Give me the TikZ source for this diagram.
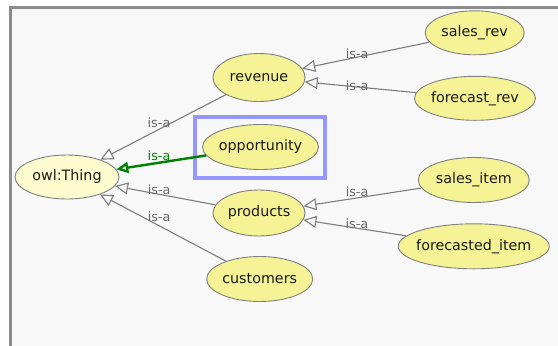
\documentclass[tikz,border=0pt]{standalone}
\usepackage{fontspec}
\setmainfont{DejaVu Sans}
\usetikzlibrary{shapes.geometric,arrows.meta}
\definecolor{frame}{RGB}{140,140,140}
\definecolor{canvas}{RGB}{248,248,248}
\definecolor{rootfill}{RGB}{252,252,206}
\definecolor{classfill}{RGB}{246,243,150}
\definecolor{classline}{RGB}{128,128,128}
\definecolor{edgegray}{RGB}{125,125,125}
\definecolor{labelgray}{RGB}{105,105,105}
\definecolor{selgreen}{RGB}{0,128,0}
\definecolor{highlight}{RGB}{150,150,255}

\begin{document}
\begin{tikzpicture}[x=1pt,y=-1pt,
  cls/.style={ellipse, draw=classline, line width=0.9pt, fill=classfill,
    inner sep=0pt, font=\fontsize{14.3}{16}\selectfont, text=black!90},
  root/.style={cls, fill=rootfill},
  isa/.style={draw=edgegray, line width=1.1pt,
    -{Triangle[open, length=13pt, width=12pt]}},
  selisa/.style={draw=selgreen, line width=2.4pt,
    -{Triangle[open, length=12pt, width=11pt]}},
  lbl/.style={inner sep=0pt, text=labelgray, font=\fontsize{12.8}{14}\selectfont},
  sellbl/.style={lbl, text=selgreen}
]
% page, panel and its frame
\useasboundingbox (0,0) rectangle (558,346);
\fill[white] (0,0) rectangle (558,346);
\fill[canvas] (12,9) rectangle (558,346);
\draw[frame, line width=3pt] (10.5,346) -- (10.5,7.5) -- (558,7.5);

% classes
\node[root, minimum width=104pt, minimum height=44pt] (owl) at (67,177) {\makebox[0pt]{owl:Thing}};
\node[cls, minimum width=92pt, minimum height=48pt] (rev) at (259,77.5) {\makebox[0pt]{revenue}};
\node[cls, minimum width=116pt, minimum height=45pt] (opp) at (260.5,147) {\makebox[0pt]{opportunity}};
\node[cls, minimum width=92pt, minimum height=46pt] (prod) at (259,213) {\makebox[0pt]{products}};
\node[cls, minimum width=106pt, minimum height=45pt] (cust) at (259.7,279) {\makebox[0pt]{customers}};
\node[cls, minimum width=99pt, minimum height=44pt] (srev) at (474.7,32.8) {\makebox[0pt]{sales\_rev}};
\node[cls, minimum width=121pt, minimum height=44pt] (frev) at (475,98.3) {\makebox[0pt]{forecast\_rev}};
\node[cls, minimum width=111pt, minimum height=45pt] (sitem) at (473.8,180) {\makebox[0pt]{sales\_item}};
\node[cls, minimum width=151pt, minimum height=45pt] (fitem) at (473.8,246.3) {\makebox[0pt]{forecasted\_item}};

% selection frame around the chosen class
\draw[highlight, line width=4.5pt]
  ([shift={(-65.5,-30)}]opp.center) rectangle ([shift={(64.5,31)}]opp.center);

% subclass links
\draw[isa] (rev) -- node[lbl, pos=0.533, yshift=6.4pt] {is-a} (owl);
\draw[selisa] (opp) -- node[sellbl, pos=0.524, yshift=6.7pt] {is-a} (owl);
\draw[isa] (prod) -- node[lbl, pos=0.561, yshift=4.2pt] {is-a} (owl);
\draw[isa] (cust) -- node[lbl, pos=0.531, yshift=9pt] {is-a} (owl);
\draw[isa] (srev) -- node[lbl, pos=0.568, yshift=3.2pt] {is-a} (rev);
\draw[isa] (frev) -- node[lbl, pos=0.529, yshift=1pt] {is-a} (rev);
\draw[isa] (sitem) -- node[lbl, pos=0.545, yshift=5.9pt] {is-a} (prod);
\draw[isa] (fitem) -- node[lbl, pos=0.48, yshift=4.2pt] {is-a} (prod);
\end{tikzpicture}
\end{document}
